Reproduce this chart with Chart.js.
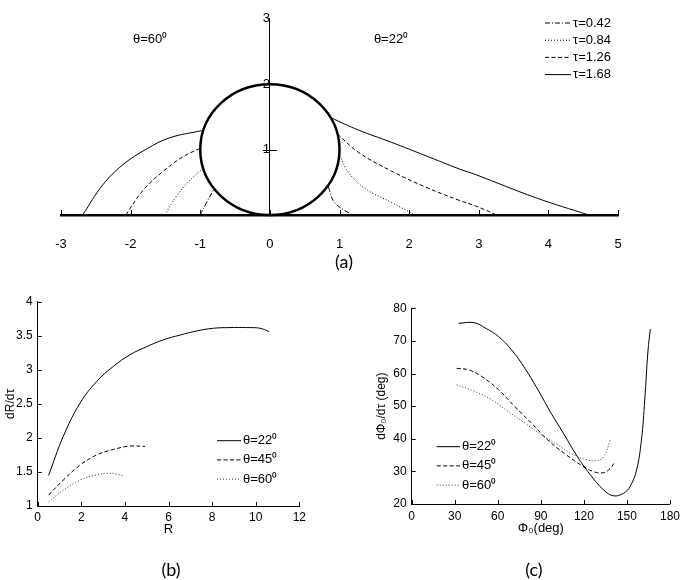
<!DOCTYPE html>
<html lang="en">
<head>
  <meta charset="UTF-8">
  <title>Trajectories and rates</title>
  <script src="https://cdn.jsdelivr.net/npm/chart.js"></script>
  <style>
    body { margin: 0; background: #fff; }
    #page { position: relative; width: 685px; height: 580px; overflow: hidden; }
    canvas { position: absolute; }
    .cap { position: absolute; font-family: Lato, "Open Sans", sans-serif; font-size: 18px; color: #000;
           transform: translate(-50%, -50%); }
  </style>
</head>
<body>
<div id="page">
  <canvas id="chartA" width="685" height="280" style="left:0;top:0"></canvas>
  <canvas id="chartB" width="340" height="300" style="left:0;top:280px"></canvas>
  <canvas id="chartC" width="345" height="300" style="left:340px;top:280px"></canvas>
  <div class="cap" style="left:344px;top:261px">(a)</div>
  <div class="cap" style="left:171px;top:569px">(b)</div>
  <div class="cap" style="left:534px;top:569px">(c)</div>
</div>
<script>
  // ---- data: panel (a), trajectories [x, y] ----
  const tauLabels = ['τ=0.42', 'τ=0.84', 'τ=1.26', 'τ=1.68'];
  const thetaLabelsA = ['θ=60⁰', 'θ=22⁰'];

  // θ=22° side (right)
  const right042 = [[0.84, 0.43], [0.93, 0.19], [1.18, 0]];
  const right084 = [[1.00, 0.91], [1.13, 0.65], [1.36, 0.41], [1.75, 0.19], [2.09, 0]];
  const right126 = [[0.97, 1.24], [1.27, 0.96], [1.75, 0.67], [2.23, 0.43], [2.73, 0.22], [2.95, 0.14], [3.26, 0]];
  const right168 = [[0.87, 1.49], [1.27, 1.30], [1.75, 1.11], [2.23, 0.91], [2.73, 0.70], [2.95, 0.62], [3.83, 0.26], [4.58, 0]];
  // θ=60° side (left)
  const left042 = [[-1.00, 0], [-0.92, 0.17], [-0.81, 0.38]];
  const left084 = [[-1.51, 0], [-1.34, 0.29], [-1.15, 0.53], [-0.96, 0.71]];
  const left126 = [[-2.07, 0], [-1.82, 0.38], [-1.53, 0.67], [-1.25, 0.89], [-1.00, 1.02]];
  const left168 = [[-2.69, 0], [-2.40, 0.46], [-2.11, 0.77], [-1.77, 1.01], [-1.44, 1.18], [-0.98, 1.29]];
  // body circle: centre and radius
  const circleCenter = [0, 1];
  const circleRadius = 1;

  // ---- data: panel (b), dR/dtau vs R ----
  const thetaLabels = ['θ=22⁰', 'θ=45⁰', 'θ=60⁰'];
  const rate22 = [[0.5, 1.45], [1.17, 2.02], [1.94, 2.51], [2.71, 2.83], [3.47, 3.05], [4.23, 3.22], [5.0, 3.34],
                  [5.76, 3.44], [6.53, 3.51], [7.29, 3.57], [8.06, 3.61], [8.82, 3.62], [9.59, 3.62], [10.2, 3.61], [10.62, 3.56]];
  const rate45 = [[0.5, 1.16], [1.17, 1.38], [1.94, 1.60], [2.71, 1.75], [3.47, 1.83], [4.23, 1.88], [4.92, 1.875]];
  const rate60 = [[0.5, 1.06], [1.17, 1.23], [1.94, 1.38], [2.71, 1.455], [3.17, 1.48], [3.62, 1.47], [3.93, 1.44]];

  // ---- data: panel (c), dPhi0/dtau vs Phi0 ----
  const phi22 = [[32.7, 75.4], [43.4, 75.6], [51.5, 73.9], [60.6, 71.3], [69.7, 67.2], [78.9, 61.6], [88.0, 55.0],
                 [97.2, 47.8], [106.4, 41.2], [115.5, 34.5], [124.6, 28.9], [133.8, 24.3], [140.7, 22.5], [147.6, 23.3],
                 [152.1, 25.3], [156.7, 30.4], [160.1, 39.6], [162.4, 51.9], [164.7, 67.2], [166.3, 73.6]];
  const phi45 = [[31.3, 61.6], [40.0, 61.1], [49.1, 59.0], [60.6, 55.0], [72.0, 49.8], [83.4, 44.8], [94.9, 39.6],
                 [106.4, 35.5], [117.8, 32.0], [126.9, 29.9], [133.8, 29.6], [138.3, 30.9], [141.8, 33.0]];
  const phi60 = [[31.3, 56.5], [44.6, 54.4], [56.0, 51.9], [67.4, 48.3], [78.9, 44.8], [90.3, 41.2], [101.8, 38.1],
                 [113.2, 35.0], [122.3, 33.5], [129.2, 33.3], [133.8, 34.5], [138.3, 39.6]];

  // line styles
  const DASHDOT = [5, 2, 1, 2], DOTTED = [1, 2], DASHED = [4, 2.5], SOLID = [];
  const FONT = 'Liberation Sans, Arial, sans-serif';

  Chart.defaults.font.family = FONT;
  Chart.defaults.color = '#000';
  Chart.defaults.animation = false;

  const pts = arr => arr.map(p => ({ x: p[0], y: p[1] }));
  function line(label, arr, dash, opts) {
    return Object.assign({
      label: label, data: pts(arr), showLine: true, pointRadius: 0,
      borderColor: '#000', borderWidth: 1, borderDash: dash,
      tension: 0.4, fill: false
    }, opts || {});
  }

  // inward tick marks
  const innerTicks = {
    id: 'innerTicks',
    afterDraw(chart, args, o) {
      const { ctx, chartArea, scales: { x, y } } = chart;
      ctx.save();
      ctx.strokeStyle = '#000';
      ctx.lineWidth = 1;
      const xb = chartArea.bottom;
      const xv = o.xValues || x.ticks.map(t => t.value);
      xv.forEach(v => {
        const px = Math.round(x.getPixelForValue(v)) + 0.5;
        ctx.beginPath(); ctx.moveTo(px, xb); ctx.lineTo(px, xb - o.xLen); ctx.stroke();
      });
      const yb = o.yAt !== undefined ? x.getPixelForValue(o.yAt) : chartArea.left;
      const yv = o.yValues || y.ticks.map(t => t.value);
      yv.forEach(v => {
        const py = Math.round(y.getPixelForValue(v)) + 0.5;
        ctx.beginPath(); ctx.moveTo(yb - (o.yBack || 0), py); ctx.lineTo(yb + o.yLen, py); ctx.stroke();
      });
      ctx.restore();
    }
  };

  // legend drawn inside the plot
  const lineLegend = {
    id: 'lineLegend',
    afterDraw(chart, args, o) {
      const ctx = chart.ctx;
      let row = 0;
      chart.data.datasets.forEach(ds => {
        if (ds.inLegend === false) return;
        const yy = o.top + row * o.gap;
        ctx.save();
        ctx.strokeStyle = ds.borderColor;
        ctx.lineWidth = ds.borderWidth;
        ctx.setLineDash(ds.borderDash || []);
        ctx.beginPath(); ctx.moveTo(o.left, yy); ctx.lineTo(o.left + o.len, yy); ctx.stroke();
        ctx.restore();
        ctx.save();
        ctx.fillStyle = '#000';
        ctx.font = o.size + 'px ' + FONT;
        ctx.textBaseline = 'middle';
        ctx.fillText(ds.label, o.left + o.len + 2, yy);
        ctx.restore();
        row++;
      });
    }
  };

  // circle + text notes for panel (a)
  const bodyAndNotes = {
    id: 'bodyAndNotes',
    afterDatasetsDraw(chart) {
      const { ctx, scales: { x, y } } = chart;
      const cx = x.getPixelForValue(circleCenter[0]), cy = y.getPixelForValue(circleCenter[1]);
      const rx = Math.abs(x.getPixelForValue(circleCenter[0] + circleRadius) - cx);
      const ry = Math.abs(y.getPixelForValue(circleCenter[1] + circleRadius) - cy);
      ctx.save();
      ctx.strokeStyle = '#000';
      ctx.lineWidth = 2.5;
      ctx.beginPath(); ctx.ellipse(cx, cy, rx, ry, 0, 0, Math.PI * 2); ctx.stroke();
      ctx.font = '13px ' + FONT;
      ctx.fillStyle = '#000';
      ctx.textAlign = 'center';
      ctx.textBaseline = 'middle';
      ctx.fillText(thetaLabelsA[0], x.getPixelForValue(-1.72), y.getPixelForValue(2.68));
      ctx.fillText(thetaLabelsA[1], x.getPixelForValue(1.74), y.getPixelForValue(2.68));
      ctx.restore();
    }
  };

  // ---- panel (a) ----
  new Chart(document.getElementById('chartA'), {
    type: 'scatter',
    data: {
      datasets: [
        line(tauLabels[0], right042, DASHDOT),
        line(tauLabels[1], right084, DOTTED),
        line(tauLabels[2], right126, DASHED),
        line(tauLabels[3], right168, SOLID),
        line(tauLabels[0], left042, DASHDOT, { inLegend: false }),
        line(tauLabels[1], left084, DOTTED, { inLegend: false }),
        line(tauLabels[2], left126, DASHED, { inLegend: false }),
        line(tauLabels[3], left168, SOLID, { inLegend: false })
      ]
    },
    options: {
      responsive: false,
      layout: { padding: { left: 61, right: 67, top: 8, bottom: 20 } },
      plugins: {
        legend: { display: false },
        tooltip: { enabled: false },
        lineLegend: { left: 545, top: 23, gap: 17.2, len: 26, size: 13 },
        innerTicks: { xLen: 5, yAt: 0, yValues: [1, 2], yLen: 7, yBack: 7 }
      },
      scales: {
        x: {
          type: 'linear', min: -3, max: 5,
          grid: { display: false, drawTicks: false },
          border: { display: true, color: '#000', width: 2.5 },
          ticks: { stepSize: 1, padding: 22, font: { size: 13 } },
          afterFit(s) { s.height = 45; }
        },
        y: {
          type: 'linear', min: 0, max: 3, position: { x: 0 },
          grid: { display: false, drawTicks: false },
          border: { display: true, color: '#000', width: 1 },
          ticks: { stepSize: 1, padding: 11, font: { size: 13 }, callback: v => (v === 0 ? '' : v) }
        }
      }
    },
    plugins: [innerTicks, lineLegend, bodyAndNotes]
  });

  // ---- panel (b) ----
  new Chart(document.getElementById('chartB'), {
    type: 'scatter',
    data: {
      datasets: [
        line(thetaLabels[0], rate22, SOLID),
        line(thetaLabels[1], rate45, DASHED),
        line(thetaLabels[2], rate60, DOTTED, { borderColor: '#333' })
      ]
    },
    options: {
      responsive: false,
      layout: { padding: { left: 0, right: 40.7, top: 21.7, bottom: 34 } },
      plugins: {
        legend: { display: false },
        tooltip: { enabled: false },
        lineLegend: { left: 217, top: 160.7, gap: 19.2, len: 24, size: 13 },
        innerTicks: { xLen: 4, yLen: 4 }
      },
      scales: {
        x: {
          type: 'linear', min: 0, max: 12,
          grid: { display: false, drawTicks: false },
          border: { display: true, color: '#000', width: 1 },
          ticks: { stepSize: 2, padding: 4, font: { size: 12 } },
          title: { display: true, text: 'R', font: { size: 13 }, padding: { top: 0, bottom: 9 } },
          afterFit(s) { s.height = 40; }
        },
        y: {
          type: 'linear', min: 1, max: 4,
          grid: { display: false, drawTicks: false },
          border: { display: true, color: '#000', width: 1 },
          ticks: { stepSize: 0.5, padding: 5, font: { size: 12 }, callback: v => String(v) },
          title: { display: true, text: 'dR/dτ', font: { size: 12 }, padding: { top: 3, bottom: 0 } },
          afterFit(s) { s.width = 37.7; }
        }
      }
    },
    plugins: [innerTicks, lineLegend]
  });

  // ---- panel (c) ----
  new Chart(document.getElementById('chartC'), {
    type: 'scatter',
    data: {
      datasets: [
        line(thetaLabels[0], phi22, SOLID),
        line(thetaLabels[1], phi45, DASHED),
        line(thetaLabels[2], phi60, DOTTED, { borderColor: '#333' })
      ]
    },
    options: {
      responsive: false,
      layout: { padding: { left: 0, right: 11, top: 28.3, bottom: 36 } },
      plugins: {
        legend: { display: false },
        tooltip: { enabled: false },
        lineLegend: { left: 96.7, top: 166.7, gap: 19.2, len: 23.3, size: 13 },
        innerTicks: { xLen: 4, yLen: 4 }
      },
      scales: {
        x: {
          type: 'linear', min: 0, max: 180,
          grid: { display: false, drawTicks: false },
          border: { display: true, color: '#000', width: 1 },
          ticks: { stepSize: 30, padding: 5, font: { size: 12 } },
          title: { display: true, text: 'Φ₀(deg)', font: { size: 13 }, padding: { top: 0, bottom: 8 } },
          afterFit(s) { s.height = 40; }
        },
        y: {
          type: 'linear', min: 20, max: 80,
          grid: { display: false, drawTicks: false },
          border: { display: true, color: '#000', width: 1 },
          ticks: { stepSize: 10, padding: 5, font: { size: 12 } },
          title: { display: true, text: 'dΦ₀/dτ (deg)', font: { size: 12 }, padding: { top: 34, bottom: 0 } },
          afterFit(s) { s.width = 71.7; }
        }
      }
    },
    plugins: [innerTicks, lineLegend]
  });
</script>
</body>
</html>
